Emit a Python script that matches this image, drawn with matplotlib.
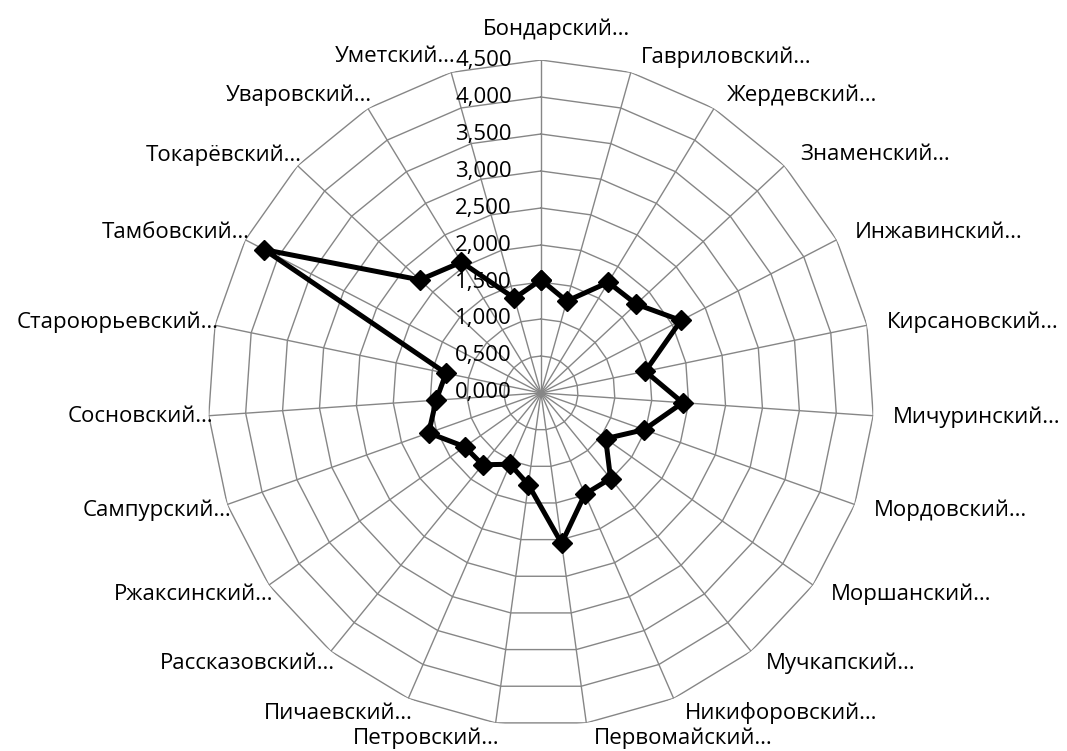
import numpy as np
import matplotlib
matplotlib.use('Agg')
import matplotlib.pyplot as plt

plt.rcParams['font.family'] = ['Open Sans', 'DejaVu Sans']

districts = ['Бондарский', 'Гавриловский', 'Жердевский', 'Знаменский', 'Инжавинский',
             'Кирсановский', 'Мичуринский', 'Мордовский', 'Моршанский', 'Мучкапский',
             'Никифоровский', 'Первомайский', 'Петровский', 'Пичаевский', 'Рассказовский',
             'Ржаксинский', 'Сампурский', 'Сосновский', 'Староюрьевский', 'Тамбовский',
             'Токарёвский', 'Уваровский', 'Уметский']
values = [1.53, 1.29, 1.75, 1.76, 2.13, 1.44, 1.92, 1.48, 1.07, 1.49, 1.49, 2.05,
          1.25, 1.05, 1.25, 1.26, 1.61, 1.42, 1.31, 4.21, 2.24, 2.07, 1.33]
ring_values = [0.0, 0.5, 1.0, 1.5, 2.0, 2.5, 3.0, 3.5, 4.0, 4.5]

n = len(districts)
theta = np.arange(n) * 2 * np.pi / n
rmax = ring_values[-1]
grid_col = '#868686'

fig = plt.figure(figsize=(10.67, 7.51), dpi=100)
ax = fig.add_axes([0.1949, 0.0333, 0.6242, 0.8868], projection='polar')
ax.set_theta_offset(np.pi / 2)
ax.set_theta_direction(-1)
ax.set_ylim(0, rmax)
ax.grid(False)
ax.set_xticks([])
ax.set_yticks([])
ax.spines['polar'].set_visible(False)
ax.patch.set_visible(False)

# polygon rings and spokes like Excel radar
th_closed = np.append(theta, theta[0])
for r in ring_values[1:]:
    ax.plot(th_closed, np.full(n + 1, r), color=grid_col, lw=1.0, zorder=1)
for t in theta:
    ax.plot([t, t], [0, rmax], color=grid_col, lw=1.0, zorder=1)

# value labels along the top spoke
for r in ring_values:
    ax.annotate(f'{r:.3f}'.replace('.', ','), xy=(0, r), xytext=(-29, 0),
                textcoords='offset pixels', ha='right', va='center',
                fontsize=16, color='black', zorder=2, annotation_clip=False)

# category labels
for name, t in zip(districts, theta):
    a = np.pi / 2 - t
    c, s = np.cos(a), np.sin(a)
    dy = 16 * s
    if abs(c) < 0.01:
        ha, dx, dy = 'center', 16, 31
    elif c > 0:
        ha, dx = 'left', 6 + 14 * c
    else:
        ha, dx = 'right', 4
    ax.annotate(name + '…', xy=(t, rmax), xytext=(dx, dy),
                textcoords='offset pixels', ha=ha, va='center',
                fontsize=16, color='black', annotation_clip=False)

ax.plot(th_closed, np.append(values, values[0]), color='black', lw=3.6,
        marker='D', markersize=10, zorder=3, clip_on=False)

fig.savefig('out.png', dpi=100)
